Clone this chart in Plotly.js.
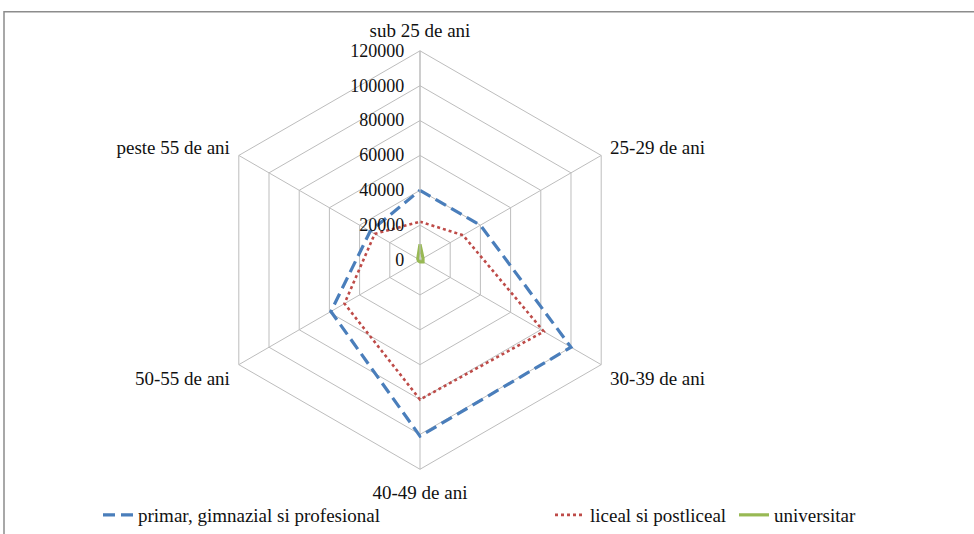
<!DOCTYPE html>
<html>
<head>
<meta charset="utf-8">
<script src="https://cdn.plot.ly/plotly-3.0.1.min.js"></script>
<style>html,body{margin:0;padding:0;background:#fff;}#chart{width:974px;height:534px;}</style>
</head>
<body>
<div id="chart"></div>
<script>
const categories = ["sub 25 de ani", "25-29 de ani", "30-39 de ani", "40-49 de ani", "50-55 de ani", "peste 55 de ani"];
const seriesNames = ["primar, gimnazial si profesional", "liceal si postliceal", "universitar"];
const primar = [40000, 40000, 100000, 101000, 59000, 33000];
const liceal = [22000, 28500, 82000, 80000, 50000, 30000];
const universitar = [9000, 2000, 2000, 1000, 1000, 1500];
const radialTicks = [0, 20000, 40000, 60000, 80000, 100000, 120000];

function closed(a){ return a.concat([a[0]]); }

const serif = "'Liberation Serif', 'Times New Roman', serif";
const traces = [
  {type:"scatterpolar", r:closed(primar), theta:closed(categories), name:seriesNames[0], mode:"lines",
   line:{color:"#4a7ebb", width:3.2, dash:"12px,6px"}, legend:"legend", cliponaxis:false},
  {type:"scatterpolar", r:closed(liceal), theta:closed(categories), name:seriesNames[1], mode:"lines",
   line:{color:"#be4b48", width:2.6, dash:"dot"}, legend:"legend2", cliponaxis:false},
  {type:"scatterpolar", r:closed(universitar), theta:closed(categories), name:seriesNames[2], mode:"lines",
   line:{color:"#98b954", width:3.2}, legend:"legend3", cliponaxis:false}
];

const cx = 420, cy = 263.5, R = 212, W = 974, H = 534;
const legBase = {orientation:"h", yanchor:"middle", xanchor:"left", bgcolor:"rgba(0,0,0,0)",
  font:{family:serif, size:19, color:"#111"}, itemwidth:30};
const legY = (H-522)/H;
const layout = {
  width:W, height:H, margin:{l:0,r:0,t:0,b:0}, paper_bgcolor:"#fff",
  font:{family:serif},
  showlegend:true,
  polar:{
    domain:{x:[(cx-R)/W,(cx+R)/W], y:[(H-cy-R)/H,(H-cy+R)/H]},
    bgcolor:"#fff", gridshape:"linear",
    angularaxis:{rotation:90, direction:"clockwise", categoryarray:categories, type:"category",
      showline:true, linecolor:"#bdbdbd", linewidth:1, gridcolor:"#bdbdbd", gridwidth:1,
      ticks:"outside", ticklen:6, tickcolor:"rgba(0,0,0,0)",
      tickfont:{family:serif, size:19, color:"#111"}},
    radialaxis:{range:[0,120000], tickvals:radialTicks, ticktext:radialTicks.map(String), angle:90,
      showline:true, linecolor:"#bdbdbd", gridcolor:"#bdbdbd", gridwidth:1,
      ticks:"outside", ticklen:9, tickcolor:"rgba(0,0,0,0)",
      tickangle:90, side:"counterclockwise",
      tickfont:{family:serif, size:18, color:"#111"}}
  },
  legend:Object.assign({}, legBase, {x:98/W, y:legY}),
  legend2:Object.assign({}, legBase, {x:550/W, y:legY}),
  legend3:Object.assign({}, legBase, {x:734/W, y:legY}),
  shapes:[{type:"rect", xref:"paper", yref:"paper", x0:4/W, x1:1.05, y0:-0.05, y1:(H-12)/H,
    line:{color:"#8c8c8c", width:1.5}, fillcolor:"rgba(0,0,0,0)", layer:"below"}]
};
Plotly.newPlot("chart", traces, layout, {displayModeBar:false, staticPlot:true});
</script>
</body>
</html>
